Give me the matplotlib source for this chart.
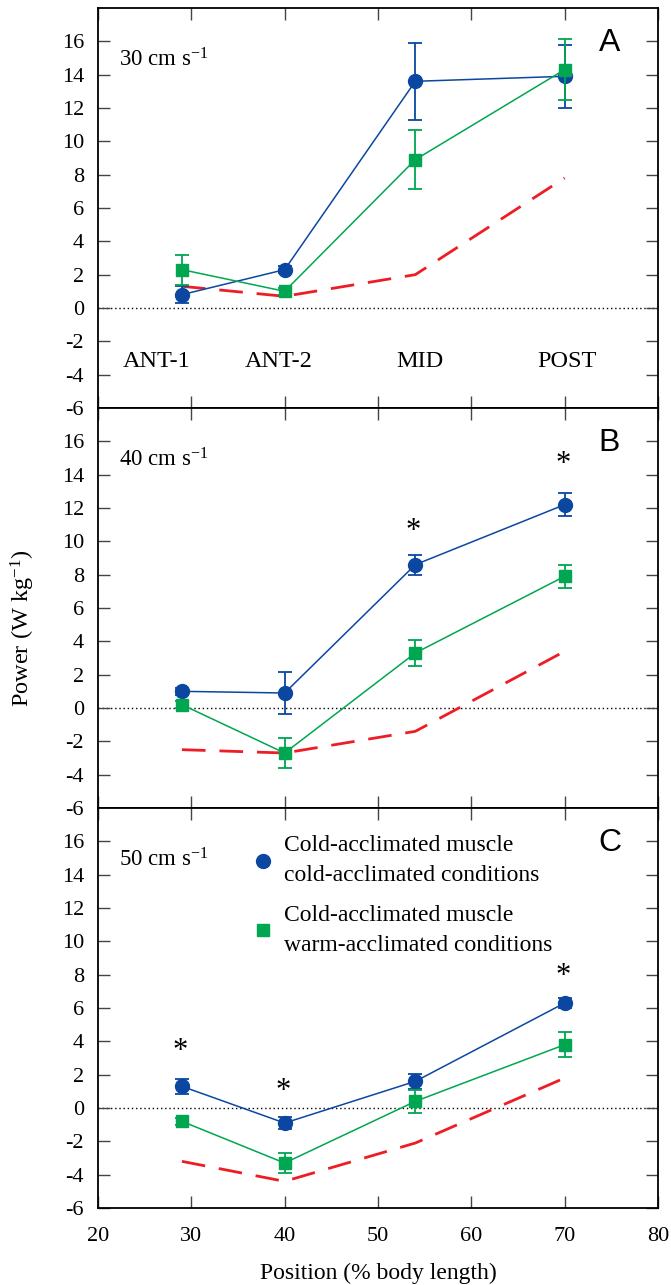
import numpy as np
import matplotlib
matplotlib.use("Agg")
import matplotlib.pyplot as plt
from matplotlib.lines import Line2D

plt.rcParams['font.family'] = ['Liberation Serif', 'DejaVu Serif']
plt.rcParams['mathtext.fontset'] = 'custom'
plt.rcParams['mathtext.rm'] = 'Liberation Serif'
plt.rcParams['mathtext.it'] = 'Liberation Serif:italic'
plt.rcParams['axes.unicode_minus'] = False

# positions along the body (% body length)
pos = [29, 40, 54, 70]
region_labels = ["ANT-1", "ANT-2", "MID", "POST"]
region_x = [26.3, 39.4, 54.5, 70.2]

speeds = ["30 cm s$^{-1}$", "40 cm s$^{-1}$", "50 cm s$^{-1}$"]
panel_tags = ["A", "B", "C"]

# cold-acclimated muscle, cold-acclimated conditions (blue circles)
cold_mean = [[0.8, 2.3, 13.6, 13.9],
             [1.0, 0.9, 8.6, 12.2],
             [1.3, -0.9, 1.6, 6.3]]
cold_err = [[0.5, 0.2, 2.3, 1.9],
            [0.2, 1.25, 0.6, 0.7],
            [0.45, 0.35, 0.45, 0.3]]

# cold-acclimated muscle, warm-acclimated conditions (green squares)
warm_mean = [[2.3, 1.0, 8.9, 14.3],
             [0.2, -2.7, 3.3, 7.9],
             [-0.8, -3.3, 0.4, 3.8]]
warm_err = [[0.9, 0.2, 1.75, 1.85],
            [0.2, 0.9, 0.8, 0.7],
            [0.2, 0.6, 0.7, 0.75]]

# red dashed reference line
ref_line = [[1.3, 0.7, 2.0, 7.8],
            [-2.5, -2.7, -1.4, 3.4],
            [-3.2, -4.4, -2.1, 1.8]]

# significance stars (x, y) per panel
stars = [[],
         [(53.8, 10.6), (69.8, 14.6)],
         [(28.8, 3.4), (39.8, 1.0), (69.8, 7.9)]]

blue = "#0b47a1"
green = "#00a650"
red = "#ee1d25"

fig = plt.figure(figsize=(6.71, 12.85), dpi=100)
left, width, height = 0.146, 0.8346, 0.3113
bottoms = [0.6825, 0.3712, 0.0599]

axes = []
for i in range(3):
    ax = fig.add_axes([left, bottoms[i], width, height])
    axes.append(ax)

    ax.axhline(0, color="black", ls=(0, (1, 2)), lw=1.0, zorder=1)
    ax.plot(pos, ref_line[i], color=red, lw=2.0, dashes=(8.5, 5), zorder=2)
    ax.errorbar(pos, cold_mean[i], yerr=cold_err[i], color=blue, marker="o",
                ms=10, lw=1.1, capsize=5, capthick=1.3, elinewidth=1.3, zorder=3)
    ax.errorbar(pos, warm_mean[i], yerr=warm_err[i], color=green, marker="s",
                ms=9, lw=1.1, capsize=5, capthick=1.3, elinewidth=1.3, zorder=4)

    ax.set_xlim(20, 80)
    ax.set_ylim(-6, 18)
    ax.set_yticks(np.arange(-6, 17, 2))
    ax.set_xticks(np.arange(20, 81, 10))
    ax.tick_params(direction="in", top=True, right=True, length=8.5,
                   width=1.0, color="#444444", labelsize=16)
    ax.tick_params(axis="y", pad=10)
    ax.tick_params(axis="x", pad=14)
    for sp in ax.spines.values():
        sp.set_linewidth(1.3)

    ax.text(22.3, 14.5, speeds[i], fontsize=16.5, ha="left", va="baseline")
    ax.text(74.8, 15.9, panel_tags[i], fontsize=23, ha="center", va="center",
            family="Liberation Sans")
    for sx, sy in stars[i]:
        ax.text(sx, sy, "*", fontsize=22, ha="center", va="center")

    if i < 2:
        ax.tick_params(labelbottom=False)

for lx, lab in zip(region_x, region_labels):
    axes[0].text(lx, -3.2, lab, fontsize=17.5, ha="center", va="center")

axes[1].set_ylabel("Power (W kg$^{-1}$)", fontsize=17.5)
axes[1].yaxis.set_label_coords(-0.108, 0.45)
axes[2].set_xlabel("Position (% body length)", fontsize=17, labelpad=12)

handles = [Line2D([], [], ls="none", marker="o", ms=10, color=blue),
           Line2D([], [], ls="none", marker="s", ms=8, color=green)]
labels = ["Cold-acclimated muscle\ncold-acclimated conditions",
          "Cold-acclimated muscle\nwarm-acclimated conditions"]
leg = axes[2].legend(handles, labels, loc="upper left", bbox_to_anchor=(0.265, 0.955),
                     frameon=False, fontsize=17, handlelength=0.6, handletextpad=0.6,
                     labelspacing=0.8, borderaxespad=0)
for t in leg.get_texts():
    t.set_linespacing(1.55)

fig.savefig("out.png", dpi=100)
